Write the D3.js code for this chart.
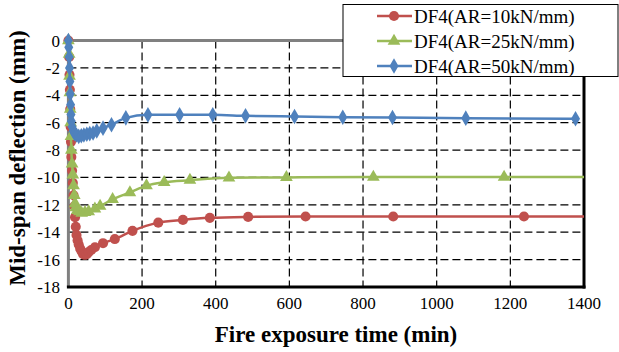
<!DOCTYPE html>
<html>
<head>
<meta charset="utf-8">
<script src="https://cdn.jsdelivr.net/npm/d3@7"></script>
<style>
  body { margin: 0; background: #fff; }
</style>
</head>
<body>
<script>
// values: [time (min), deflection (mm)]
var ar10 = [
  [0, 0], [2, -1.2], [3, -2.5], [4, -3.6], [5, -5], [6, -6.3], [7, -7.4], [8, -8.5],
  [10, -9.5], [12, -10.4], [14, -11.3], [16, -12.1], [18, -12.9], [20, -13.6], [22, -14.2],
  [25, -14.6], [28, -14.9], [32, -15.2], [36, -15.4], [40, -15.6], [45, -15.65], [50, -15.6],
  [55, -15.45], [62, -15.3], [72, -15.1], [94, -14.8], [126, -14.5], [174, -13.9], [244, -13.3],
  [311, -13.1], [384, -12.95], [488, -12.88], [644, -12.85], [882, -12.85], [1237, -12.85], [1400, -12.85]
];
var ar25 = [
  [0, 0], [2, -1], [3, -2.6], [4, -3.8], [5, -5], [6, -6], [7, -7], [8, -8],
  [10, -9], [12, -9.8], [14, -10.6], [16, -11.3], [18, -11.9], [20, -12.2], [24, -12.4],
  [30, -12.5], [36, -12.6], [45, -12.55], [55, -12.5], [72, -12.3], [86, -12.1], [120, -11.6],
  [167, -11.1], [212, -10.6], [260, -10.35], [330, -10.2], [436, -10.03], [592, -10],
  [828, -9.97], [1183, -9.97], [1400, -9.97]
];
var ar50 = [
  [0, 0], [1, -0.5], [2, -1.2], [3, -2], [4, -3], [5, -3.9], [6, -4.7], [7, -5.4], [8, -5.9],
  [10, -6.3], [13, -6.6], [17, -6.8], [22, -6.9], [28, -7], [35, -6.95], [42, -6.9], [50, -6.85],
  [58, -6.8], [67, -6.75], [77, -6.6], [94, -6.4], [117, -6.15], [156, -5.65], [216, -5.43],
  [302, -5.43], [392, -5.43], [481, -5.5], [614, -5.55], [745, -5.6], [880, -5.62], [1079, -5.67],
  [1377, -5.72]
];
var seriesNames = ['DF4(AR=10kN/mm)', 'DF4(AR=25kN/mm)', 'DF4(AR=50kN/mm)'];
var xTicks = [0, 200, 400, 600, 800, 1000, 1200, 1400];
var yTicks = [0, -2, -4, -6, -8, -10, -12, -14, -16, -18];

var series = [
  {name: seriesNames[0], data: ar10, color: '#C0504D', symbol: d3.symbolCircle, size: 80},
  {name: seriesNames[1], data: ar25, color: '#9BBB59', symbol: d3.symbolTriangle, size: 70},
  {name: seriesNames[2], data: ar50, color: '#4F81BD', symbol: d3.symbolDiamond, size: 70}
];

var W = 619, H = 352;
var x = d3.scaleLinear().domain([0, 1400]).range([68.4, 584]);
var y = d3.scaleLinear().domain([-18, 0]).range([287, 40.5]);

var svg = d3.select('body').append('svg').attr('width', W).attr('height', H)
  .attr('font-family', "'Liberation Serif', 'Times New Roman', Times, serif");

// grid
svg.append('g').selectAll('line.v')
  .data(xTicks.filter(d => d > 0 && d < 1400))
  .enter().append('line')
  .attr('x1', d => x(d)).attr('x2', d => x(d))
  .attr('y1', y(0)).attr('y2', y(-18))
  .attr('stroke', '#000').attr('stroke-width', 1.2).attr('stroke-dasharray', '8,4');
svg.append('g').selectAll('line.h')
  .data(yTicks.filter(d => d < 0 && d > -18))
  .enter().append('line')
  .attr('x1', x(0)).attr('x2', x(1400))
  .attr('y1', d => y(d)).attr('y2', d => y(d))
  .attr('stroke', '#000').attr('stroke-width', 1.2).attr('stroke-dasharray', '8,4');

// frame
svg.append('line').attr('x1', x(0)).attr('x2', x(1400)).attr('y1', y(0)).attr('y2', y(0))
  .attr('stroke', '#808080').attr('stroke-width', 3);
svg.append('line').attr('x1', x(0)).attr('x2', x(0)).attr('y1', y(0)).attr('y2', y(-18))
  .attr('stroke', '#808080').attr('stroke-width', 3);
svg.append('line').attr('x1', x(1400)).attr('x2', x(1400)).attr('y1', y(0) - 1.5).attr('y2', y(-18) + 1.5)
  .attr('stroke', '#000').attr('stroke-width', 3);
svg.append('line').attr('x1', x(0) - 1.5).attr('x2', x(1400) + 1.5).attr('y1', y(-18)).attr('y2', y(-18))
  .attr('stroke', '#000').attr('stroke-width', 3);

// tick labels
svg.append('g').selectAll('text')
  .data(xTicks).enter().append('text')
  .attr('x', d => x(d)).attr('y', 309)
  .attr('text-anchor', 'middle').attr('font-size', 17)
  .text(d => d);
svg.append('g').selectAll('text')
  .data(yTicks).enter().append('text')
  .attr('x', 60).attr('y', d => y(d) + 6)
  .attr('text-anchor', 'end').attr('font-size', 17)
  .text(d => d);

// axis titles
svg.append('text').attr('x', 336).attr('y', 342)
  .attr('text-anchor', 'middle').attr('font-size', 23).attr('font-weight', 'bold')
  .text('Fire exposure time (min)');
svg.append('text').attr('transform', 'translate(25,158) rotate(-90)')
  .attr('text-anchor', 'middle').attr('font-size', 23).attr('font-weight', 'bold')
  .text('Mid-span deflection (mm)');

// series
var line = d3.line().x(d => x(d[0])).y(d => y(d[1])).curve(d3.curveMonotoneX);
series.forEach(s => {
  var g = svg.append('g');
  g.append('path').datum(s.data).attr('d', line)
    .attr('fill', 'none').attr('stroke', s.color).attr('stroke-width', 2.5);
  g.selectAll('path.m').data(s.data.filter(d => d[0] < 1400)).enter().append('path')
    .attr('transform', d => 'translate(' + x(d[0]) + ',' + y(d[1]) + ')')
    .attr('d', d3.symbol().type(s.symbol).size(s.size))
    .attr('fill', s.color);
});

// legend
var lg = svg.append('g');
lg.append('rect').attr('x', 343).attr('y', 4.5).attr('width', 275).attr('height', 72)
  .attr('fill', '#fff').attr('stroke', '#000').attr('stroke-width', 1);
series.forEach((s, i) => {
  var ly = 16 + i * 25;
  lg.append('line').attr('x1', 377).attr('x2', 412).attr('y1', ly).attr('y2', ly)
    .attr('stroke', s.color).attr('stroke-width', 2.5);
  lg.append('path').attr('transform', 'translate(394,' + ly + ')')
    .attr('d', d3.symbol().type(s.symbol).size(s.size)).attr('fill', s.color);
  lg.append('text').attr('x', 414).attr('y', ly + 6.5).attr('font-size', 19).text(s.name);
});
</script>
</body>
</html>
